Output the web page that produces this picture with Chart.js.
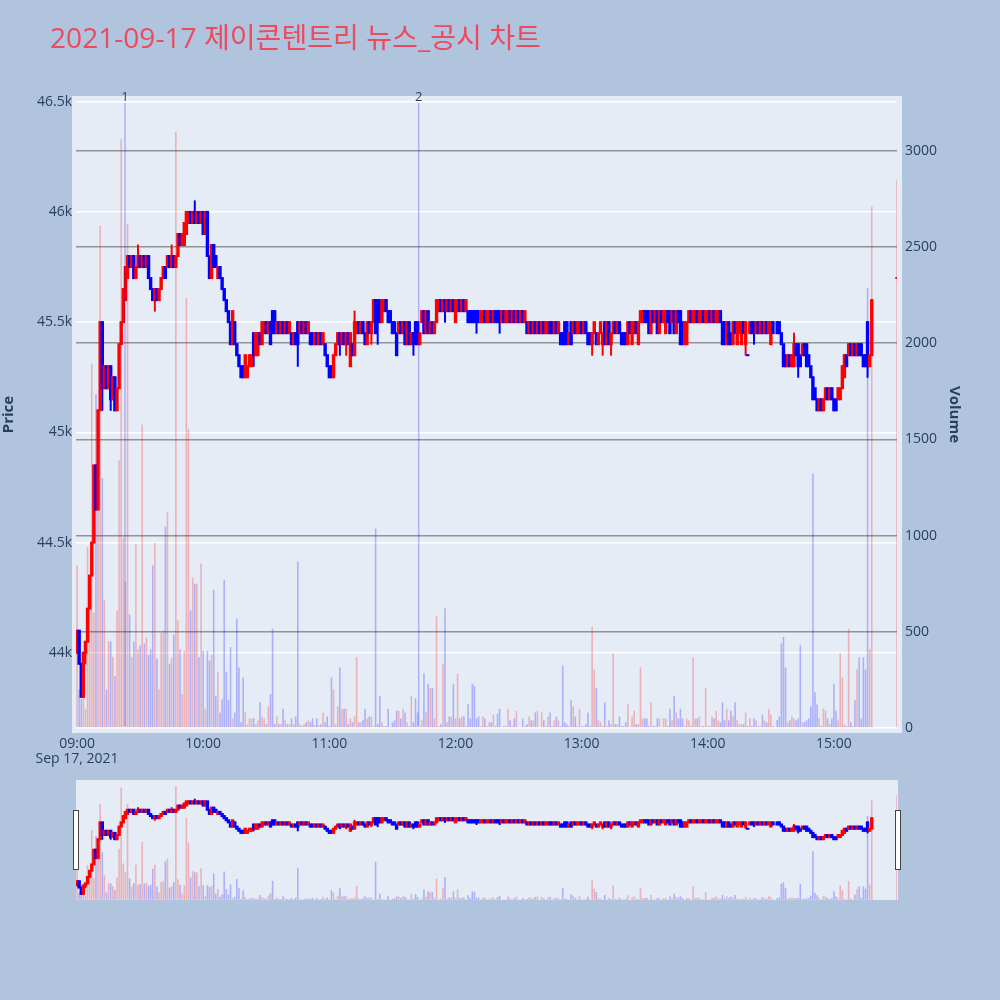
<!DOCTYPE html>
<html>
<head>
<meta charset="utf-8">
<script src="https://cdn.jsdelivr.net/npm/chart.js@4.4.0/dist/chart.umd.min.js"></script>
<style>
  html, body { margin: 0; padding: 0; background: #b0c4de; }
  #wrap { position: relative; width: 1000px; height: 1000px; }
  #main { position: absolute; left: 0; top: 0; }
  #slider { position: absolute; left: 0; top: 770px; }
</style>
</head>
<body>
<div id="wrap">
  <canvas id="main" width="1000" height="1000"></canvas>
  <canvas id="slider" width="1000" height="140"></canvas>
</div>
<script>
// minute index from 09:00 (0) to 15:30 (390); null = no trade that minute
const opens = [
  44000,44100,43950,43800,44000,44050,44200,44350,44500,44850, // 09:00
  44650,45100,45500,45200,45300,45200,45300,45150,45250,45100,
  45200,45400,45500,45600,45700,45800,45750,45800,45700,45750,
  45800,45750,45800,45750,45800,45700,45650,45600,45650,45600,
  45650,45700,45750,45750,45800,45750,45800,45750,45800,45900,
  45850,45850,45900,45950,46000,45950,46000,45950,46000,45950,
  46000,45900,46000,45800,45700,45850,45800,45700,45750,45700, // 10:00
  45650,45600,45550,45500,45400,45500,45400,45350,45300,45300,
  45250,45250,45300,45300,45450,45350,45350,45450,45400,45450,
  45500,45450,45500,45550,45550,45450,45500,45450,45500,45450,
  45500,45450,45450,45400,45450,45500,45450,45500,45450,45500,
  45450,45450,45450,45400,45450,45400,45450,45400,45400,45350,
  45300,45300,45250,45350,45400,45450,45400,45450,45400,45450, // 11:00
  45300,45400,45350,45450,45500,45450,45500,45450,45400,45500,
  45450,45500,45600,45600,45600,45500,45550,45600,45550,45550,
  45500,45500,45450,45450,45500,45450,45500,45400,45500,45400,
  45450,45500,45500,45400,45500,45550,45450,45550,45450,45500,
  45450,45500,45550,45600,45550,45600,45550,45600,45550,45600,
  45500,45550,45600,45550,45600,45550,45550,45550,45550,45550, // 12:00
  45550,45550,45500,45500,45550,45500,45500,45550,45500,45550,
  45550,45550,45500,45550,45500,45500,45550,45500,45550,45500,
  45550,45500,45550,45500,45500,45450,45500,45450,45500,45450,
  45500,45450,45500,45450,45450,45500,45500,45450,45500,45450,
  45450,45450,45500,45500,45400,45500,45450,45500,45450,45450,
  45500,45450,45500,45450,45450,45400,45450,45450,45400,45450, // 13:00
  45400,45500,45400,45500,45400,45450,45500,45450,45500,45450,
  45450,45450,45400,45500,45400,45450,45500,45400,45500,45500,
  45550,45550,45550,45450,45550,45500,45550,45450,45550,45500,
  45450,45550,45550,45500,45550,45450,45550,45550,45500,45400,
  45400,45500,45550,45500,45500,45550,45500,45500,45550,45500,
  45500,45550,45500,45550,45500,45500,45550,45500,45500,45400, // 14:00
  45500,45450,45400,45500,45400,45450,45400,45500,45400,45350,
  45450,45500,45500,45450,45500,45450,45500,45450,45500,45450,
  45400,45500,null,45500,45500,45450,45400,45350,45300,45350,
  45300,45300,45400,45400,45350,45350,45400,45400,45350,45300,
  45250,45200,45150,45100,45150,45100,45150,45200,45150,45200,
  45150,45150,45150,45150,45200,45250,45350,45350,45400,45350, // 15:00
  45400,45350,45400,45400,45350,45350,45500,45300,45350,null,
  null,null,null,null,null,null,null,null,null,null,
  45700
];
const closes = [
  44100,43950,43800,44000,44050,44200,44350,44500,44850,44650,
  45100,45500,45200,45300,45200,45300,45150,45250,45100,45200,
  45400,45500,45650,45750,45800,45750,45800,45700,45750,45800,
  45750,45800,45750,45800,45700,45650,45600,45650,45600,45650,
  45700,45750,45700,45800,45750,45800,45750,45800,45900,45850,
  45900,45950,46000,46000,45950,46000,45950,46000,45950,46000,
  45900,46000,45800,45700,45850,45750,45750,45750,45700,45650,
  45600,45550,45500,45400,45550,45400,45350,45300,45250,45250,
  45350,45300,45350,45350,45350,45450,45450,45400,45500,45500,
  45450,45500,45400,45450,45450,45500,45450,45500,45450,45500,
  45450,45500,45400,45450,45400,45400,45500,45450,45500,45450,
  45500,45400,45400,45450,45400,45450,45400,45450,45350,45300,
  45250,45250,45350,45400,45450,45400,45450,45400,45450,45400,
  45450,45350,45500,45500,45450,45500,45450,45400,45500,45450,
  45500,45600,45450,45500,45500,45600,45600,45550,45500,45500,
  45450,45450,45350,45500,45450,45500,45400,45500,45400,45450,
  45400,45400,45400,45450,45550,45450,45550,45450,45500,45450,
  45500,45600,45600,45550,45600,45550,45600,45550,45600,45550,
  45600,45600,45550,45600,45550,45600,45500,45500,45500,45500,
  45500,45500,45550,45550,45500,45550,45550,45500,45550,45500,
  45500,45500,45550,45500,45550,45550,45500,45550,45500,45550,
  45500,45550,45500,45550,45450,45500,45450,45500,45450,45500,
  45450,45500,45450,45500,45500,45450,45450,45500,45450,45500,
  45400,45400,45400,45400,45450,45400,45500,45450,45500,45500,
  45450,45500,45450,45400,45400,45450,45500,45400,45450,45500,
  45450,45400,45500,45400,45450,45500,45450,45500,45450,45400,
  45400,45400,45500,45450,45500,45500,45450,45500,45550,45550,
  45500,45500,45450,45550,45500,45550,45450,45550,45500,45550,
  45550,45500,45450,45550,45450,45550,45500,45400,45400,45500,
  45500,45550,45500,45550,45550,45500,45550,45550,45500,45550,
  45550,45500,45550,45500,45550,45550,45500,45400,45400,45500,
  45400,45400,45500,45450,45500,45500,45500,45450,45500,45350,
  45500,45450,45450,45500,45450,45500,45450,45500,45450,45500,
  45500,45450,null,45450,45450,45400,45300,45300,45350,45300,
  45350,45400,45350,45300,45300,45400,45350,45300,45300,45250,
  45150,45150,45100,45150,45100,45150,45200,45150,45200,45150,
  45100,45100,45200,45200,45300,45350,45300,45400,45350,45400,
  45350,45400,45350,45350,45300,45300,45300,45350,45600,null,
  null,null,null,null,null,null,null,null,null,null,
  45700
];
// [minute, high, low] for candles whose wick reaches past the body
const wicks = [
  [4,44050,43950],[12,45500,45100],[16,45300,45100],[29,45850,45750],[37,45650,45550],
  [45,45850,45750],[56,46050,45950],[84,45450,45300],[105,45500,45300],[125,45450,45350],
  [128,45450,45350],[132,45550,45350],[140,45500,45400],[143,45600,45400],[160,45450,45350],
  [175,45600,45500],[190,45550,45450],[201,45550,45450],[245,45450,45350],[250,45450,45350],
  [254,45450,45350],[318,45500,45350],[322,45500,45400],[341,45450,45300],[343,45400,45250],
  [376,45500,45250]
];
const volumes = [
  845,200,150,220,100,940,770,1895,600,1736,
  1270,2610,1300,665,200,450,450,370,270,610,
  1390,3060,990,760,2620,590,368,450,955,410,
  430,1577,440,470,380,410,845,962,360,200,
  495,505,1047,1121,335,365,485,3098,559,410,
  175,400,2235,1556,612,782,750,750,368,855,
  400,100,400,350,380,718,166,293,81,150,
  771,293,145,421,50,81,569,315,30,262,
  81,20,50,50,50,20,40,134,60,50,
  20,113,177,516,20,60,20,20,100,40,
  20,20,50,20,60,866,20,10,20,30,
  40,30,50,15,50,15,20,81,30,60,
  10,262,200,20,113,315,100,100,100,20,
  50,30,60,368,30,30,40,100,50,60,
  60,10,1036,20,166,30,10,10,100,5,
  30,40,90,90,50,100,81,30,10,166,
  30,155,81,10,40,283,81,230,208,208,
  50,580,10,20,336,622,30,60,60,230,
  50,283,50,60,60,10,124,50,230,220,
  50,60,10,60,50,10,30,30,70,10,
  75,100,5,10,10,100,40,10,50,90,
  5,5,50,10,20,60,40,40,81,90,
  5,81,40,10,60,81,10,40,60,40,
  10,325,30,20,10,145,113,60,10,100,
  10,10,20,81,10,527,304,208,40,30,
  10,134,10,40,20,389,20,20,60,10,
  10,30,124,5,60,90,20,20,315,50,
  50,50,10,134,10,10,50,50,5,50,
  50,10,100,40,166,81,50,100,50,10,
  50,40,10,368,50,50,60,10,10,208,
  10,10,60,50,90,40,30,134,40,100,
  40,90,60,134,40,20,20,20,81,10,
  50,10,50,40,10,10,70,40,30,100,
  70,10,null,40,60,440,474,315,30,40,
  60,50,40,50,432,30,30,40,50,113,
  1323,186,124,50,10,100,90,50,20,50,
  230,90,40,389,262,20,10,516,30,10,
  145,304,368,50,368,304,2288,410,2712,null,
  null,null,null,null,null,null,null,null,null,null,
  2850
];
const priceTicks = [44000, 44500, 45000, 45500, 46000, 46500];
const volumeTicks = [0, 500, 1000, 1500, 2000, 2500, 3000];
const timeTicks = [0, 60, 120, 180, 240, 300, 360];
const newsMarks = [[22.8, '1'], [162.5, '2']];
const chartTitle = '2021-09-17 제이콘텐트리 뉴스_공시 차트';

const RED = '#ff0000', BLUE = '#0000ff';
const FONT = '"Open Sans", "Noto Sans CJK KR", sans-serif';
const TXT = '#2a3f5f';

// build the floating-bar data the library needs
const bodyData = [], wickData = [], volData = [], candleColors = [], volColors = [];
let prevClose = null;
for (let i = 0; i < closes.length; i++) {
  if (closes[i] == null) continue;
  const o = opens[i], c = closes[i];
  const up = c > o || (c === o && prevClose != null && c >= prevClose);
  const w = wicks.find(d => d[0] === i);
  bodyData.push({ x: i, y: [o, c] });
  wickData.push({ x: i, y: w ? [w[2], w[1]] : [Math.min(o, c), Math.max(o, c)] });
  volData.push({ x: i, y: volumes[i] });
  candleColors.push(up ? RED : BLUE);
  volColors.push(up ? 'rgba(255,0,0,0.25)' : 'rgba(0,0,255,0.25)');
  prevClose = c;
}

function datasets() {
  return [
    { label: 'Volume', data: volData, yAxisID: 'yv', backgroundColor: volColors,
      barThickness: 1.6, inflateAmount: 0, grouped: false, order: 3 },
    { label: 'Wick', data: wickData, yAxisID: 'y', backgroundColor: candleColors,
      barThickness: 1, inflateAmount: 0.5, grouped: false, order: 2 },
    { label: 'Body', data: bodyData, yAxisID: 'y', backgroundColor: candleColors,
      barThickness: 1.4, inflateAmount: 1, grouped: false, order: 1 }
  ];
}

const hhmm = v => String(9 + Math.floor(v / 60)).padStart(2, '0') + ':' + String(v % 60).padStart(2, '0');

const mainDecor = {
  id: 'mainDecor',
  beforeDraw(chart) {
    const ctx = chart.ctx;
    ctx.save();
    ctx.fillStyle = '#e5ecf6';
    ctx.fillRect(72, 96, 830, 637);
    ctx.restore();
  },
  afterDatasetsDraw(chart) {
    const ctx = chart.ctx, a = chart.chartArea, xs = chart.scales.x;
    ctx.save();
    newsMarks.forEach(([m, label]) => {
      const x = xs.getPixelForValue(m);
      ctx.strokeStyle = 'rgba(0,0,255,0.25)';
      ctx.lineWidth = 1.5;
      ctx.beginPath();
      ctx.moveTo(x, a.top + 3);
      ctx.lineTo(x, a.bottom - 3);
      ctx.stroke();
      ctx.fillStyle = TXT;
      ctx.font = '13px ' + FONT;
      ctx.textAlign = 'center';
      ctx.textBaseline = 'middle';
      ctx.fillText(label, x, 97);
    });
    ctx.restore();
  },
  afterDraw(chart) {
    const ctx = chart.ctx;
    ctx.save();
    ctx.font = '26px ' + FONT;
    const k = 491 / ctx.measureText(chartTitle).width;
    ctx.font = (26 * k).toFixed(1) + 'px ' + FONT;
    ctx.fillStyle = '#ec4a5e';
    ctx.textAlign = 'left';
    ctx.textBaseline = 'middle';
    ctx.fillText(chartTitle, 50, 40);
    ctx.restore();
  }
};

new Chart(document.getElementById('main'), {
  type: 'bar',
  data: { datasets: datasets() },
  options: {
    responsive: false,
    animation: false,
    devicePixelRatio: 1,
    layout: { padding: { left: 0, right: 37, top: 100, bottom: 211 } },
    plugins: { legend: { display: false }, tooltip: { enabled: false } },
    scales: {
      x: {
        type: 'linear', min: -0.5, max: 390, offset: false,
        grid: { display: false }, border: { display: false },
        afterBuildTicks: s => { s.ticks = timeTicks.map(v => ({ value: v })); },
        afterFit: s => { s.height = 60; },
        ticks: {
          autoSkip: false, maxRotation: 0, padding: 0,
          color: TXT, font: { family: FONT, size: 14, lineHeight: 1.05 },
          callback: v => v === 0 ? [hhmm(v), 'Sep 17, 2021'] : hhmm(v)
        }
      },
      y: {
        position: 'left', min: 43654, max: 46508,
        afterBuildTicks: s => { s.ticks = priceTicks.map(v => ({ value: v })); },
        afterFit: s => { s.width = 76; },
        grid: { color: '#ffffff', lineWidth: 1.5, drawTicks: false },
        border: { display: false },
        ticks: { padding: 4, color: TXT, font: { family: FONT, size: 14 },
          callback: v => (v / 1000) + 'k' },
        title: { display: true, text: 'Price', color: TXT, padding: 0,
          font: { family: FONT, size: 15, weight: 'bold' } }
      },
      yv: {
        position: 'right', min: -5, max: 3264,
        afterBuildTicks: s => { s.ticks = volumeTicks.map(v => ({ value: v })); },
        afterFit: s => { s.width = 66; },
        grid: {
          color: c => c.tick && c.tick.value === 0 ? '#ffffff' : 'rgba(110,110,110,0.7)',
          lineWidth: 1.5, drawTicks: false
        },
        border: { display: false },
        ticks: { padding: 8, color: TXT, font: { family: FONT, size: 14 },
          callback: v => String(v) },
        title: { display: true, text: 'Volume', color: TXT, padding: 0,
          font: { family: FONT, size: 15, weight: 'bold' } }
      }
    }
  },
  plugins: [mainDecor]
});

// range slider under the main plot
const sliderDecor = {
  id: 'sliderDecor',
  beforeDraw(chart) {
    const ctx = chart.ctx;
    ctx.save();
    ctx.fillStyle = '#e5ecf6';
    ctx.fillRect(76, 10, 822, 120);
    ctx.restore();
  },
  afterDraw(chart) {
    const ctx = chart.ctx;
    ctx.save();
    ctx.fillStyle = '#ffffff';
    ctx.strokeStyle = '#444444';
    ctx.lineWidth = 1;
    [73.5, 895.5].forEach(x => {
      ctx.fillRect(x, 40.5, 5, 59);
      ctx.strokeRect(x, 40.5, 5, 59);
    });
    ctx.restore();
  }
};

new Chart(document.getElementById('slider'), {
  type: 'bar',
  data: { datasets: datasets() },
  options: {
    responsive: false,
    animation: false,
    devicePixelRatio: 1,
    layout: { padding: { left: 76, right: 103, top: 10, bottom: 10 } },
    plugins: { legend: { display: false }, tooltip: { enabled: false } },
    scales: {
      x: { type: 'linear', min: -0.5, max: 390, offset: false, display: false },
      y: { min: 43654, max: 46508, display: false },
      yv: { position: 'right', min: -5, max: 3264, display: false }
    }
  },
  plugins: [sliderDecor]
});
</script>
</body>
</html>
